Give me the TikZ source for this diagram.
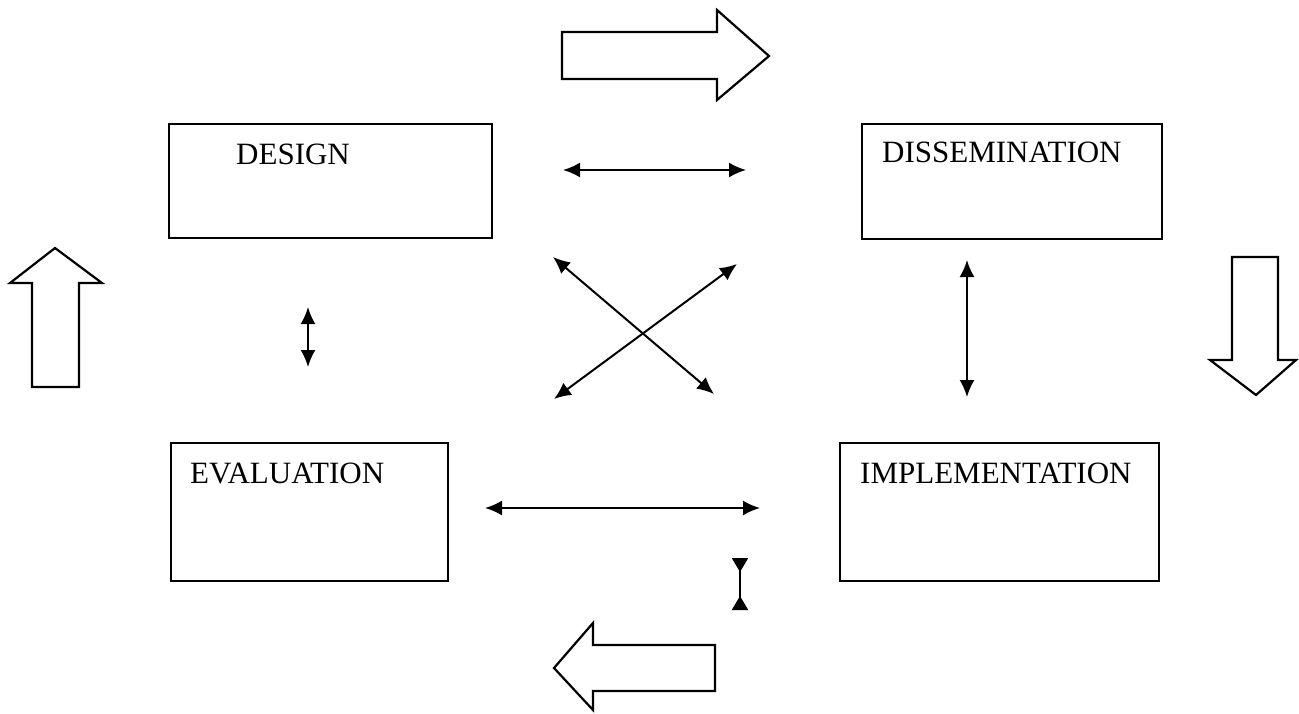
\documentclass[tikz,border=0pt]{standalone}
\usepackage{fontspec}
\setmainfont{Liberation Serif}
\usepackage{tikz}
\usetikzlibrary{positioning, arrows.meta, calc}

\begin{document}
\begin{tikzpicture}[x=1pt, y=-1pt,
  stage/.style={draw, line width=2.2pt, rectangle, inner sep=0pt},
  stagetext/.style={anchor=base west, inner sep=0pt, font=\fontsize{31}{36}\selectfont},
  link/.style={line width=2pt, {Latex[length=17pt,width=15pt]}-{Latex[length=17pt,width=15pt]}},
  bigarrow/.style={line width=2.2pt, line join=miter}]
\useasboundingbox (0,0) rectangle (1299,713);

% Boxes
\node[stage, minimum width=323pt, minimum height=114pt] (design) at (330.5,181) {};
\node[stage, minimum width=300pt, minimum height=115pt] (dissem) at (1012,181.5) {};
\node[stage, minimum width=277pt, minimum height=138pt] (eval) at (309.5,512) {};
\node[stage, minimum width=319pt, minimum height=138pt] (impl) at (999.5,512) {};
\node[stagetext] (designtxt) at (236,164) {DESIGN};
\node[stagetext] (dissemtxt) at (882,162) {DISSEMINATION};
\node[stagetext] (evaltxt) at (190,483) {EVALUATION};
\node[stagetext] (impltxt) at (860,483) {IMPLEMENTATION};

% Arrow ends
\coordinate (dd1) at (563,170);
\coordinate (dd2) at (746,170);
\coordinate (ei1) at (485,508);
\coordinate (ei2) at (760,508);
\coordinate (de1) at (308,307);
\coordinate (de2) at (308,367);
\coordinate (di1) at (967,260);
\coordinate (di2) at (967,397);
\coordinate (xa1) at (553,257);
\coordinate (xa2) at (714,394);
\coordinate (xb1) at (737,264);
\coordinate (xb2) at (554,399);
\coordinate (bowtop) at (740,558);
\coordinate (bowbot) at (740,610);

\draw[link] (dd1) -- (dd2);
\draw[link] (ei1) -- (ei2);
\draw[link] (de1) -- (de2);
\draw[link] (di1) -- (di2);
\draw[link] (xa1) -- (xa2);
\draw[link] (xb1) -- (xb2);
\draw[line width=2pt, {Triangle[reversed,length=14pt,width=16pt]}-{Triangle[reversed,length=14pt,width=16pt]}] (bowtop) -- (bowbot);

% Block arrows
\draw[bigarrow] (562,32) -- (717,32) -- (717,10) -- (769,56) -- (717,100) -- (717,79) -- (562,79) -- cycle;
\draw[bigarrow] (1232,257) -- (1278,257) -- (1278,360) -- (1296,360) -- (1256,395) -- (1210,360) -- (1232,360) -- cycle;
\draw[bigarrow] (715,645) -- (593,645) -- (593,623) -- (554,668) -- (593,710) -- (593,691) -- (715,691) -- cycle;
\draw[bigarrow] (32,387) -- (32,283) -- (10,283) -- (55,248) -- (102,283) -- (79,283) -- (79,387) -- cycle;
\end{tikzpicture}
\end{document}
